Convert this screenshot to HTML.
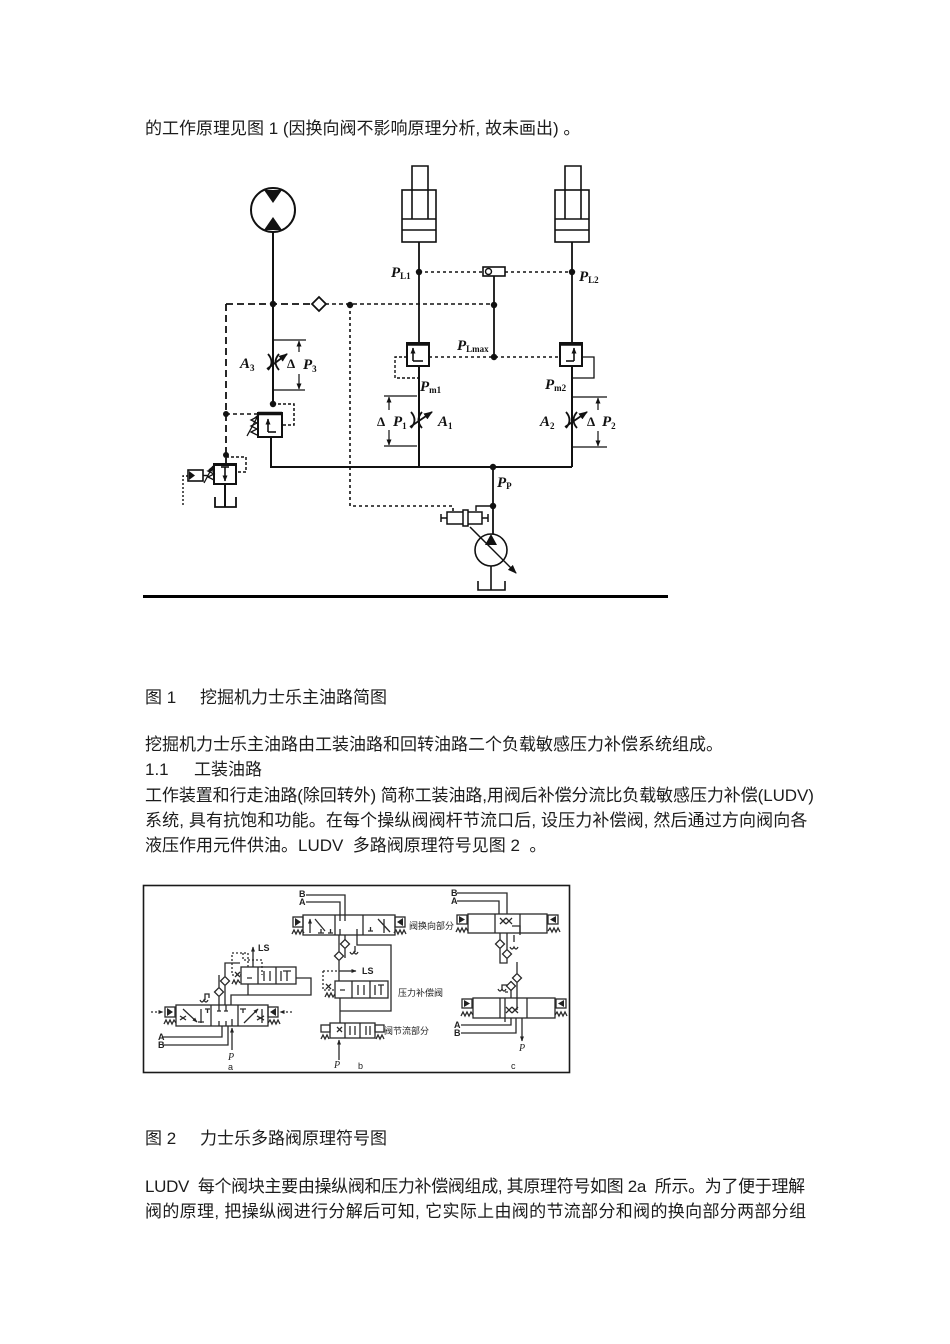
<!DOCTYPE html>
<html><head><meta charset="utf-8">
<style>
html,body{margin:0;padding:0;background:#fff;}
#pg{position:relative;width:950px;height:1344px;overflow:hidden;background:#fff;}
.t{position:absolute;font-family:"Liberation Sans","Noto Sans CJK SC",sans-serif;font-size:17px;line-height:17px;white-space:nowrap;color:#1c1c1c;}
svg{position:absolute;left:0;top:0;}
.lb{font-family:"Liberation Serif",serif;font-style:italic;font-weight:bold;font-size:15px;fill:#111;}
.sb{font-family:"Liberation Serif",serif;font-style:normal;font-weight:bold;font-size:9px;fill:#111;}
.f2{font-family:"Liberation Sans","Noto Sans CJK SC",sans-serif;font-size:9px;fill:#222;}
.f2b{font-family:"Liberation Sans",sans-serif;font-size:9px;font-weight:bold;fill:#222;}
.f2i{font-family:"Liberation Serif",serif;font-style:italic;font-size:10px;fill:#222;}
</style></head>
<body><div id="pg">

<div class="t" style="left:145px;top:120px;">的工作原理见图 1 (因换向阀不影响原理分析, 故未画出) 。</div>

<div class="t" style="left:145px;top:689px;">图 1</div>
<div class="t" style="left:200px;top:689px;">挖掘机力士乐主油路简图</div>
<div class="t" style="left:145px;top:736px;">挖掘机力士乐主油路由工装油路和回转油路二个负载敏感压力补偿系统组成。</div>
<div class="t" style="left:145px;top:761px;">1.1</div>
<div class="t" style="left:194px;top:761px;">工装油路</div>
<div class="t" style="left:145px;top:787px;letter-spacing:-0.08px;">工作装置和行走油路(除回转外) 简称工装油路,用阀后补偿分流比负载敏感压力补偿(LUDV)</div>
<div class="t" style="left:145px;top:812px;letter-spacing:0.12px;">系统, 具有抗饱和功能。在每个操纵阀阀杆节流口后, 设压力补偿阀, 然后通过方向阀向各</div>
<div class="t" style="left:145px;top:837px;">液压作用元件供油。LUDV &nbsp;多路阀原理符号见图 2 &nbsp;。</div>

<div class="t" style="left:145px;top:1130px;">图 2</div>
<div class="t" style="left:200px;top:1130px;">力士乐多路阀原理符号图</div>
<div class="t" style="left:145px;top:1178px;letter-spacing:-0.33px;">LUDV &nbsp;每个阀块主要由操纵阀和压力补偿阀组成, 其原理符号如图 2a &nbsp;所示。为了便于理解</div>
<div class="t" style="left:145px;top:1203px;letter-spacing:0.33px;">阀的原理, 把操纵阀进行分解后可知, 它实际上由阀的节流部分和阀的换向部分两部分组</div>

<svg width="950" height="1344" viewBox="0 0 950 1344">
<defs>
<marker id="ah" markerUnits="userSpaceOnUse" markerWidth="9" markerHeight="8" refX="8" refY="4" orient="auto"><path d="M0,0.5 L9,4 L0,7.5 z" fill="#111"/></marker>
<marker id="as" markerUnits="userSpaceOnUse" markerWidth="6" markerHeight="6" refX="5.5" refY="3" orient="auto"><path d="M0,0.5 L6,3 L0,5.5 z" fill="#111"/></marker>
<marker id="a2" markerUnits="userSpaceOnUse" markerWidth="5" markerHeight="5" refX="4.5" refY="2.5" orient="auto"><path d="M0,0.5 L5,2.5 L0,4.5 z" fill="#222"/></marker>
</defs>

<!-- ============ FIGURE 1 ============ -->
<g stroke="#111" stroke-width="1.8" fill="none" stroke-linecap="butt">
 <circle cx="273" cy="210" r="22" stroke-width="2"/>
 <polygon points="264,190 282,190 273,203" fill="#111" stroke="none"/>
 <polygon points="264,230 282,230 273,217" fill="#111" stroke="none"/>
 <path d="M273,232 V404" stroke-width="2"/>
 <path d="M268,354 Q275,362 268,370 M279,354 Q272,362 279,370"/>
 <path d="M267,369 L287,354" marker-end="url(#ah)"/>
 <path d="M273,340 H306 M273,390 H305" stroke-width="1.2"/>
 <path d="M299,352 V341" stroke-width="1.2" marker-end="url(#as)"/>
 <path d="M299,374 V389" stroke-width="1.2" marker-end="url(#as)"/>
 <rect x="258" y="413" width="24" height="24" stroke-width="2"/>
 <path d="M258,413.5 H282" stroke-width="3.5"/>
 <path d="M268,432 V419" stroke-width="1.6" marker-end="url(#as)"/>
 <path d="M268,432 H276" stroke-width="1.6"/>
 <polyline points="257,417 251,420 257,423 251,426 257,429 251,432 257,435" stroke-width="1.3"/>
 <path d="M247,436 L259,414" stroke-width="1.3" marker-end="url(#as)"/>
 <path d="M273,404 H294 V425 H282" stroke-dasharray="3,2" stroke-width="1.5"/>
 <path d="M271,437 V467 H572" stroke-width="2"/>

 <path d="M226,304 H313" stroke-dasharray="7,4"/>
 <path d="M325,304 H494" stroke-dasharray="4,3" stroke-width="1.6"/>
 <polygon points="312,304 319,297 326,304 319,311" fill="#fff" stroke-width="1.8"/>
 <path d="M226,304 V464" stroke-dasharray="7,4"/>
 <path d="M226,414 H258" stroke-dasharray="4,3" stroke-width="1.6"/>
 <path d="M226,457 H246 V472 H236" stroke-dasharray="3,2" stroke-width="1.5"/>
 <path d="M350,305 V506 H453 V512" stroke-dasharray="3,3" stroke-width="1.6"/>

 <rect x="214" y="464" width="22" height="20" stroke-width="2"/>
 <path d="M214,464.5 H236" stroke-width="3"/>
 <path d="M225,467 V481" stroke-width="1.6" marker-end="url(#as)"/>
 <path d="M221,467 H229" stroke-width="1.6"/>
 <polyline points="214,469 208,471 214,474 208,477 214,480" stroke-width="1.3"/>
 <path d="M204,483 L213,466" stroke-width="1.3" marker-end="url(#as)"/>
 <rect x="188" y="470" width="15" height="11" stroke-width="1.6"/>
 <polygon points="189,471 195,475.5 189,480" fill="#111" stroke="none"/>
 <path d="M203,475.5 H208" stroke-width="1.4"/>
 <path d="M188,476 H183 V506" stroke-dasharray="2,2" stroke-width="1.4"/>
 <path d="M225,484 V507" stroke-width="2"/>
 <path d="M215,497 V507 H236 V497" stroke-width="1.8"/>

 <rect x="402" y="190" width="34" height="52" stroke-width="1.6"/>
 <path d="M412,219 V166 H428 V219 M402,219 H436 M402,230 H436" stroke-width="1.6"/>
 <rect x="555" y="190" width="34" height="52" stroke-width="1.6"/>
 <path d="M565,219 V166 H581 V219 M555,219 H589 M555,230 H589" stroke-width="1.6"/>
 <path d="M419,242 V343 M572,242 V343"/>
 <path d="M419,272 H483 M505,272 H572" stroke-dasharray="3,3" stroke-width="1.6"/>
 <rect x="483" y="267" width="22" height="9" stroke-width="1.6"/>
 <circle cx="488.5" cy="271.5" r="3" stroke-width="1.4"/>
 <path d="M494,276 V357"/>
 <path d="M429,357 H560" stroke-dasharray="3,3" stroke-width="1.6"/>

 <rect x="407" y="343" width="22" height="23" stroke-width="2"/>
 <path d="M407,344 H429" stroke-width="3.5"/>
 <path d="M413,361 V348" stroke-width="1.6" marker-end="url(#as)"/>
 <path d="M413,361 H423" stroke-width="1.6"/>
 <path d="M407,357 H395 V378 H419" stroke-dasharray="3,2" stroke-width="1.4"/>
 <rect x="560" y="343" width="22" height="23" stroke-width="2"/>
 <path d="M560,344 H582" stroke-width="3.5"/>
 <path d="M574,361 V348" stroke-width="1.6" marker-end="url(#as)"/>
 <path d="M574,361 H566" stroke-width="1.6"/>
 <path d="M582,357 H594 V378 H572" stroke-width="1.3"/>

 <path d="M419,366 V467 M572,366 V467" stroke-width="2"/>
 <path d="M411,412 Q418,420 411,428 M422,412 Q415,420 422,428"/>
 <path d="M410,427 L432,412" marker-end="url(#ah)"/>
 <path d="M566,412 Q573,420 566,428 M577,412 Q570,420 577,428"/>
 <path d="M565,427 L587,412" marker-end="url(#ah)"/>
 <path d="M384,396 H417 M384,446 H417" stroke-width="1.2"/>
 <path d="M389,410 V397" stroke-width="1.2" marker-end="url(#as)"/>
 <path d="M389,430 V445" stroke-width="1.2" marker-end="url(#as)"/>
 <path d="M572,397 H607 M572,447 H607" stroke-width="1.2"/>
 <path d="M598,410 V398" stroke-width="1.2" marker-end="url(#as)"/>
 <path d="M598,431 V446" stroke-width="1.2" marker-end="url(#as)"/>

 <path d="M493,467 V534" stroke-width="1.8"/>
 <path d="M493,506 H476 V511" stroke-width="1.4"/>
 <rect x="447" y="512" width="35" height="12" stroke-width="1.5"/>
 <path d="M441,518 H447 M482,518 H488" stroke-width="1.5"/>
 <path d="M441,514 V522 M488,514 V522" stroke-width="1.5"/>
 <rect x="463" y="510" width="5" height="16" fill="#fff" stroke-width="1.5"/>
 <circle cx="491" cy="550" r="16" stroke-width="1.6"/>
 <polygon points="491,534 485,545 497,545" fill="#111" stroke="none"/>
 <path d="M470,527 L516,573" stroke-width="1.5" marker-end="url(#ah)"/>
 <path d="M491,566 V590" stroke-width="1.6"/>
 <path d="M478,581 V590 H505 V581" stroke-width="1.6"/>
</g>
<g fill="#111">
 <circle cx="273" cy="304" r="3.2"/>
 <circle cx="350" cy="305" r="3.2"/>
 <circle cx="494" cy="305" r="3.2"/>
 <circle cx="494" cy="357" r="3.2"/>
 <circle cx="419" cy="272" r="3.2"/>
 <circle cx="572" cy="272" r="3.2"/>
 <circle cx="273" cy="404" r="3.2"/>
 <circle cx="226" cy="414" r="3"/>
 <circle cx="226" cy="455" r="3"/>
 <circle cx="493" cy="467" r="3.2"/>
 <circle cx="493" cy="506" r="3.2"/>
</g>
<rect x="143" y="595" width="525" height="3" fill="#000"/>

<text class="lb" x="240" y="368">A<tspan class="sb" dy="3">3</tspan></text>
<text class="lb" x="287" y="368" style="font-style:normal;font-size:13px">Δ</text>
<text class="lb" x="303" y="369">P<tspan class="sb" dy="3">3</tspan></text>
<text class="lb" x="391" y="277">P<tspan class="sb" dy="2">L1</tspan></text>
<text class="lb" x="579" y="281">P<tspan class="sb" dy="2">L2</tspan></text>
<text class="lb" x="457" y="350">P<tspan class="sb" dy="2">Lmax</tspan></text>
<text class="lb" x="420" y="391">P<tspan class="sb" dy="2">m1</tspan></text>
<text class="lb" x="545" y="389">P<tspan class="sb" dy="2">m2</tspan></text>
<text class="lb" x="377" y="426" style="font-style:normal;font-size:13px">Δ</text>
<text class="lb" x="393" y="426">P<tspan class="sb" dy="3">1</tspan></text>
<text class="lb" x="438" y="426">A<tspan class="sb" dy="3">1</tspan></text>
<text class="lb" x="540" y="426">A<tspan class="sb" dy="3">2</tspan></text>
<text class="lb" x="587" y="426" style="font-style:normal;font-size:13px">Δ</text>
<text class="lb" x="602" y="426">P<tspan class="sb" dy="3">2</tspan></text>
<text class="lb" x="497" y="487">P<tspan class="sb" dy="2">P</tspan></text>

<!-- ============ FIGURE 2 ============ -->
<rect x="143.5" y="885.5" width="426" height="187" fill="none" stroke="#1a1a1a" stroke-width="1.6"/>
<g stroke="#2a2a2a" stroke-width="1.3" fill="none">
 <rect x="176" y="1005" width="92" height="21"/>
 <path d="M211,1005 V1026 M238,1005 V1026"/>
 <path d="M183,1009 L197,1022" marker-end="url(#a2)"/>
 <path d="M201,1023 V1009 M205,1009 H210 M207.5,1009 V1013 M198,1022 H204"/>
 <path d="M219,1005 V1011 M226,1005 V1011 M232,1026 V1019 M219,1026 V1021 M226,1026 V1021 M217,1011 H221 M224,1011 H228"/>
 <path d="M244,1023 L258,1009" marker-end="url(#a2)"/>
 <path d="M262,1023 V1009 M240,1009 H246 M243,1009 V1013 M257,1016 L264,1020 M257,1020 L264,1016"/>
 <path d="M180,1016 L186,1020 M180,1020 L186,1016"/>
 <rect x="165" y="1007" width="10" height="10"/>
 <polygon points="167,1008 173,1012 167,1016" fill="#222" stroke="none"/>
 <rect x="268" y="1007" width="10" height="10"/>
 <polygon points="276,1008 270,1012 276,1016" fill="#222" stroke="none"/>
 <path d="M151,1012 H163" stroke-dasharray="2,2" marker-end="url(#a2)"/>
 <path d="M292,1012 H280" stroke-dasharray="2,2" marker-end="url(#a2)"/>
 <polyline points="164,1024 166,1020 168,1024 170,1020 172,1024 174,1020 176,1023"/>
 <polyline points="268,1023 270,1020 272,1024 274,1020 276,1024 278,1020 280,1024"/>
 <path d="M163,1037 H222 V1026 M163,1045 H228 V1026"/>
 <path d="M232,1050 V1028" marker-end="url(#a2)"/>
 <path d="M219,1005 V997 M219,987 V975 M225,1005 V986 M225,976 V963 H240 M231,1005 V995 H311 V978 H296"/>
 <polygon points="214.5,992 219,987.5 223.5,992 219,996.5" fill="#fff"/>
 <polygon points="220.5,981 225,976.5 229.5,981 225,985.5" fill="#fff"/>
 <path d="M200,1000 q2,4 4,0 q2,4 4,0 M205,1000 V994 H209 V998"/>
 <rect x="241" y="967" width="55" height="17"/>
 <path d="M258,967 V984 M276,967 V984"/>
 <path d="M248,984 V995"/>
 <path d="M247,978 H252 M264,981 V971 M270,981 V971 M281,981 V971 M287,981 V971 M283,971 H291"/>
 <path d="M235,972 L240,977 M235,977 L240,972"/>
 <polyline points="232,984 234,980 236,984 238,980 240,983"/>
 <path d="M253,967 V947" marker-end="url(#a2)"/>
 <path d="M248,967 V953 H232 V975 H241 M243,953 V960 H262 V975" stroke-dasharray="2,2"/>

 <rect x="303" y="915" width="92" height="20"/>
 <path d="M335,915 V935 M363,915 V935"/>
 <path d="M310,933 V919" marker-end="url(#a2)"/>
 <path d="M315,919 L325,931 M318,933 H324 M321,933 V929 M328,933 H333 M330.5,933 V929"/>
 <path d="M340,915 V921 M345,915 V921 M340,935 V929 M357,935 V929"/>
 <path d="M368,931 H373 M370.5,931 V927 M378,919 L390,932 M384,933 V919"/>
 <rect x="293" y="917" width="10" height="10"/>
 <polygon points="295,918 301,922 295,926" fill="#222" stroke="none"/>
 <rect x="395" y="917" width="10" height="10"/>
 <polygon points="403,918 397,922 403,926" fill="#222" stroke="none"/>
 <polyline points="292,934 294,930 296,934 298,930 300,934 302,930 304,933"/>
 <polyline points="394,933 396,930 398,934 400,930 402,934 404,930 406,934"/>
 <path d="M306,895 H345 V915 M306,902 H340 V915"/>
 <path d="M345,935 V940 M345,949 V958 M339,935 V951 M339,961 V981 M357,935 V945 H391 V1011 H340"/>
 <polygon points="340.5,944 345,939.5 349.5,944 345,948.5" fill="#fff"/>
 <polygon points="334.5,956 339,951.5 343.5,956 339,960.5" fill="#fff"/>
 <path d="M350,952 q2,4 4,0 q2,4 4,0 M355,952 V946"/>
 <rect x="335" y="981" width="53" height="17"/>
 <path d="M352,981 V998 M370,981 V998"/>
 <path d="M340,990 H345 M358,995 V985 M364,995 V985 M375,995 V985 M381,995 V985 M378,985 H384"/>
 <path d="M323,971 H340" stroke-dasharray="2,2"/>
 <path d="M340,971 H356" marker-end="url(#a2)"/>
 <path d="M323,971 V990 H335" stroke-dasharray="2,2"/>
 <path d="M326,984 L331,989 M326,989 L331,984"/>
 <polyline points="325,997 327,993 329,997 331,993 333,997 335,994"/>
 <path d="M340,998 V1023"/>
 <rect x="330" y="1023" width="45" height="15"/>
 <path d="M345,1023 V1038 M360,1023 V1038"/>
 <path d="M337,1027 L342,1032 M337,1032 L342,1027 M350,1035 V1026 M355,1035 V1026 M366,1035 V1026 M370,1035 V1026"/>
 <rect x="321" y="1025" width="9" height="7"/>
 <rect x="375" y="1025" width="9" height="7"/>
 <polyline points="321,1039 323,1035 325,1039 327,1035 329,1039"/>
 <polyline points="376,1039 378,1035 380,1039 382,1035 384,1039"/>
 <path d="M339,1060 V1040" marker-end="url(#a2)"/>

 <rect x="468" y="914" width="79" height="19"/>
 <path d="M495,914 V933 M520,914 V933"/>
 <path d="M500,918 L506,924 M500,924 L506,918 M506,918 L512,924 M506,924 L512,918"/>
 <rect x="457" y="915" width="10" height="9"/>
 <polygon points="459,916 465,919.5 459,923" fill="#222" stroke="none"/>
 <rect x="548" y="915" width="10" height="9"/>
 <polygon points="556,916 550,919.5 556,923" fill="#222" stroke="none"/>
 <polyline points="456,932 458,928 460,932 462,928 464,932 466,928 468,931"/>
 <polyline points="548,931 550,928 552,932 554,928 556,932 558,928 560,932"/>
 <path d="M457,893 H507 V914 M457,901 H499 V914"/>
 <path d="M500,933 V939 M500,949 V963 H507 V959 M507,933 V949 M512,926 H520 V935 M514,935 V942"/>
 <polygon points="495.5,944 500,939.5 504.5,944 500,948.5" fill="#fff"/>
 <polygon points="502.5,954 507,949.5 511.5,954 507,958.5" fill="#fff"/>
 <path d="M510,947 q2,4 4,0 q2,4 4,0"/>
 <path d="M517,962 V973 M517,983 V1010 M511,981 V998 M505,998 V1022 M505,992 H508 M498,989 q2,4 4,0 q2,4 4,0 M502,989 V985 H511"/>
 <polygon points="512.5,978 517,973.5 521.5,978 517,982.5" fill="#fff"/>
 <polygon points="506.5,986 511,981.5 515.5,986 511,990.5" fill="#fff"/>
 <rect x="473" y="998" width="82" height="20"/>
 <path d="M500,998 V1018 M527,998 V1018"/>
 <path d="M506,1007 L512,1013 M506,1013 L512,1007 M512,1007 L518,1013 M512,1013 L518,1007"/>
 <rect x="462" y="999" width="10" height="9"/>
 <polygon points="464,1000 470,1003.5 464,1007" fill="#222" stroke="none"/>
 <rect x="556" y="999" width="10" height="9"/>
 <polygon points="564,1000 558,1003.5 564,1007" fill="#222" stroke="none"/>
 <polyline points="461,1016 463,1012 465,1016 467,1012 469,1016 471,1012 473,1015"/>
 <polyline points="555,1015 557,1012 559,1016 561,1012 563,1016 565,1012 567,1016"/>
 <path d="M461,1025 H511 V1018 M461,1033 H516 V1018"/>
 <path d="M522,1018 V1041" marker-end="url(#a2)"/>
</g>
<text class="f2b" x="258" y="951">LS</text>
<text class="f2b" x="158" y="1040">A</text>
<text class="f2b" x="158" y="1048">B</text>
<text class="f2i" x="228" y="1060">P</text>
<text class="f2" x="228" y="1070">a</text>
<text class="f2b" x="299" y="897">B</text>
<text class="f2b" x="299" y="905">A</text>
<text class="f2" x="409" y="929">阀换向部分</text>
<text class="f2b" x="362" y="974">LS</text>
<text class="f2" x="398" y="996">压力补偿阀</text>
<text class="f2" x="384" y="1034">阀节流部分</text>
<text class="f2i" x="334" y="1068">P</text>
<text class="f2" x="358" y="1069">b</text>
<text class="f2b" x="451" y="896">B</text>
<text class="f2b" x="451" y="904">A</text>
<text class="f2b" x="454" y="1028">A</text>
<text class="f2b" x="454" y="1036">B</text>
<text class="f2i" x="519" y="1051">P</text>
<text class="f2" x="511" y="1069">c</text>
</svg>
</div></body></html>
